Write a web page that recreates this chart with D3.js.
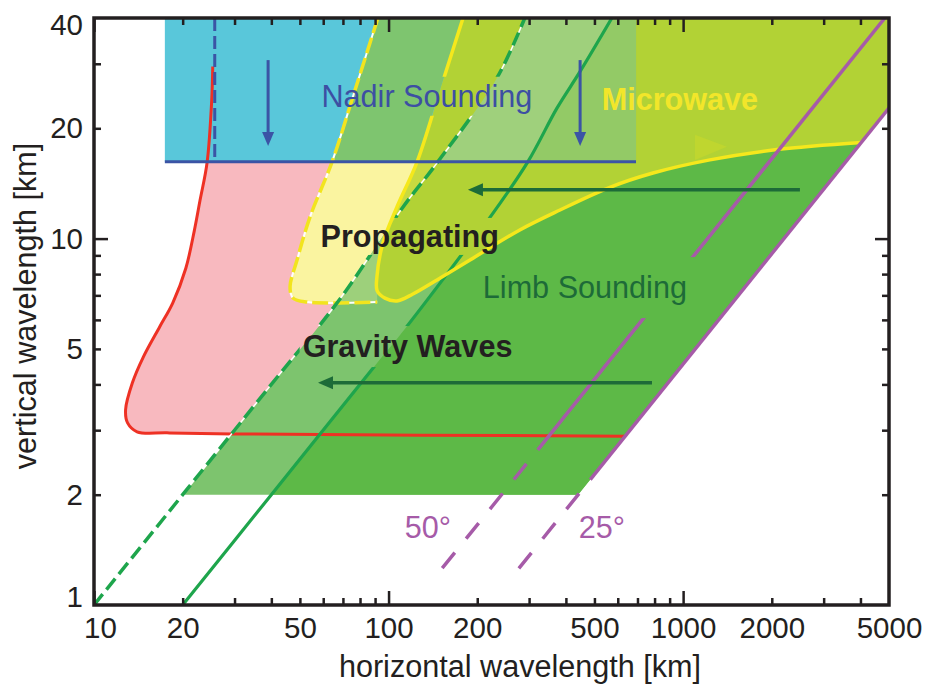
<!DOCTYPE html>
<html><head><meta charset="utf-8">
<script src="https://cdn.jsdelivr.net/npm/d3@7"></script>
<style>
body{margin:0;background:#fff}
svg{display:block}
text{font-family:"Liberation Sans",Arial,Helvetica,sans-serif}
</style>
</head><body>
<svg id="c" width="931" height="686"></svg>
<script>
// ---------- data (horizontal wavelength km, vertical wavelength km) ----------
const xDomain=[10,5000], yDomain=[1,40];
const xTickLabels=[10,20,50,100,200,500,1000,2000,5000];
const yTickLabels=[1,2,5,10,20,40];
const xMajor=[10,100,1000];
const xMinor=[20,30,40,50,60,70,80,90,200,300,400,500,600,700,800,900,2000,3000,4000];
const yMajor=[10];
const yMinor=[2,3,4,5,6,7,8,9,20,30];

// red boundary of propagating gravity waves
const redCurve=[[25.3,29.5],[25.1,23.9],[24.2,16.1],[22.9,12.7],[21.9,10.5],[20.5,8.3],[18.5,6.67],[16.7,5.74],[14.7,4.75],[13.5,4.04],[12.8,3.41],[13.0,3.14],[14.0,2.97],[17.7,2.95],[29.6,2.93],[634,2.89]];
// nadir sounding box
const nadirH=[17.4,692], nadirZ=[16.2,40];
const nadirDashH=25.7;
const nadirArrowH=[39,447], nadirArrowZ=[30.7,17.9];
// limb sounding boundaries
const greenDashed=[[10,1],[20,2],[40,4],[68,6.8],[112,12.2],[147,16.2],[233,27.4],[290,40]];
const greenSolid=[[20,1],[40,2],[88.5,4.43],[115,5.74],[179,9.14],[217,11.2],[297,16.2],[373,22.7],[446,28.5],[573,40]];
const limbBottomZ=2;
// propagating (yellow dashed) and microwave (yellow solid) outlines
const pLeft=[[92,40],[76.9,25.4],[64.3,16.2],[54.1,11.45],[48.9,8.74],[46.3,7.38],[47.4,6.88],[52.8,6.71],[91.5,6.71]];
const pRight=[[91.5,6.71],[91.5,7.2],[95.7,9.73],[106.8,12.2],[125,16.2],[179,40]];
const mLeft=[[179,40],[149.5,25.4],[125,16.2],[106.8,12.2],[95.7,9.73],[91.3,7.86]];
const mBottom=[[91.5,7.2],[97.2,6.88],[106.8,6.76],[121,7.06],[146,7.71],[189,8.74],[279,10.56],[382,11.97],[564,13.8],[790,15.1],[1233,16.4],[2080,17.5],[4022,18.3]];
// purple angle lines
const line25Solid=[[8800,40],[484,2.2]], line25Dashed=[[484,2.2],[264,1.2]];
const line50Solid=[[4840,40],[321,2.65]], line50Dashed=[[321,2.65],[146,1.21]];
// dark green arrows
const greenArrows=[{from:2492,to:186,z:13.6},{from:784,to:57.6,z:4.04}];
// faint marker
const faintTri=[[1097,19.2],[1408,17.8],[1097,16.4]];
// labels
const labels=[
 {t:'Nadir Sounding',h:135,z:22.9,c:'#3d4fa3',w:'normal',gap:2},
 {t:'Microwave',h:975,z:22.4,c:'#f2e62a',w:'bold'},
 {t:'Propagating',h:118,z:9.49,c:'#231f20',w:'bold',gap:1},
 {t:'Limb Sounding',h:464,z:6.88,c:'#1d6b38',w:'normal',gap:13},
 {t:'Gravity Waves',h:116,z:4.75,c:'#231f20',w:'bold',gap:3},
 {t:'50°',h:136,z:1.52,c:'#a65ba8',w:'normal'},
 {t:'25°',h:530,z:1.52,c:'#a65ba8',w:'normal'}
];

// ---------- scales ----------
const L=94,R=889,T=18,B=605;
const x=d3.scaleLog().domain(xDomain).range([L,R]);
const y=d3.scaleLog().domain(yDomain).range([B,T]);
const P=p=>[x(p[0]),y(p[1])];
const curvePath=pts=>d3.line().curve(d3.curveCatmullRom.alpha(0.5))(pts.map(P));
const linPath=pts=>d3.line()(pts.map(P));
const join=(...parts)=>parts.map((s,i)=>i===0?s:s.replace(/^M/,'L')).join('')+'Z';

const svg=d3.select('#c');
const defs=svg.append('defs');
defs.append('clipPath').attr('id','clipPlot').append('rect').attr('x',L).attr('y',T).attr('width',R-L).attr('height',B-T);

const top25=line25Solid[0], limbCorner=[limbBottomZ*line25Solid[1][0]/line25Solid[1][1],limbBottomZ];
const pinkPath=join(curvePath(redCurve),linPath([redCurve[redCurve.length-1],top25,[redCurve[0][0],40]]));
const pPath=join(curvePath(pLeft),linPath(pRight));
const limbPath=join(curvePath(greenDashed.slice(1)),linPath([[290,40],top25,limbCorner]));
const limbInnerPath=join(curvePath(greenSolid.slice(1)),linPath([[573,40],top25,limbCorner]));
const mOutline=mLeft.concat(mBottom);
const mPath=join(curvePath(mOutline),linPath([mBottom[mBottom.length-1],top25,[179,40]]));
const nadirPath=linPath([[nadirH[0],nadirZ[0]],[nadirH[1],nadirZ[0]],[nadirH[1],nadirZ[1]],[nadirH[0],nadirZ[1]]])+'Z';

defs.append('clipPath').attr('id','clipLimb').append('path').attr('d',limbPath);
defs.append('clipPath').attr('id','clipM').append('path').attr('d',mPath);
defs.append('clipPath').attr('id','clipNadir').append('path').attr('d',nadirPath);

// masks for line gaps behind labels
function mkMask(id){
  const m=defs.append('mask').attr('id',id).attr('maskUnits','userSpaceOnUse')
    .attr('x',0).attr('y',0).attr('width',931).attr('height',686);
  m.append('rect').attr('width',931).attr('height',686).attr('fill','#fff');
  return m;
}
const gapMask=mkMask('gapMask'), yMask=mkMask('yMask');

const g=svg.append('g').attr('clip-path','url(#clipPlot)');
const fill=(par,d,c)=>par.append('path').attr('d',d).attr('fill',c);

fill(g,pinkPath,'#f8b9bf');
fill(g,pPath,'#faf4a0');
fill(g,limbPath,'#7dc46e');
fill(g,limbInnerPath,'#5db947');
fill(g.append('g').attr('clip-path','url(#clipLimb)'),pPath,'#9dd07b');
fill(g,mPath,'#c8da40');
fill(g.append('g').attr('clip-path','url(#clipM)'),limbPath,'#b2d235');
fill(g,nadirPath,'#59c7da');
const gn=g.append('g').attr('clip-path','url(#clipNadir)');
fill(gn,pPath,'#7ec56f');
fill(gn,mPath,'#b2d235');
const gnm=gn.append('g').attr('clip-path','url(#clipM)');
fill(gnm,limbPath,'#9fd07c');
fill(gnm,limbInnerPath,'#93ca66');
fill(g,linPath(faintTri)+'Z','#bfd62f');

// ---------- lines ----------
const stroke=(par,d,c,w,dash,off)=>{const p=par.append('path').attr('d',d).attr('fill','none')
  .attr('stroke',c).attr('stroke-width',w);
  if(dash)p.attr('stroke-dasharray',dash);
  if(off)p.attr('stroke-dashoffset',off);return p;};

// red
stroke(g,curvePath(redCurve),'#ee3124',3);
// yellow dashed propagating outline
stroke(g,curvePath(pLeft),'#ffffff',2);
stroke(g,curvePath(pLeft),'#f2e41e',3.5,'16 5');
// green limb lines
const gl=g.append('g').attr('mask','url(#gapMask)');
stroke(gl,curvePath(greenDashed),'#ffffff',1.5);
stroke(gl,curvePath(greenDashed),'#1ea54c',3.5,'14 6');
stroke(gl,curvePath(greenSolid),'#1ea54c',3.2);
// microwave outline
stroke(g.append('g').attr('mask','url(#yMask)'),curvePath(mOutline),'#f5e81c',3.5);
// purple
const gp=g.append('g').attr('mask','url(#gapMask)');
stroke(gp,linPath(line25Solid),'#a65ba8',3.5);
stroke(gp,linPath(line25Dashed),'#a65ba8',3.5,'20 18',20);
stroke(gp,linPath(line50Solid),'#a65ba8',3.5);
stroke(gp,linPath(line50Dashed),'#a65ba8',3.5,'20 18',20);
// nadir lines
stroke(g,linPath([[nadirH[0],nadirZ[0]],[nadirH[1],nadirZ[0]]]),'#3b54a5',3);
stroke(g,linPath([[nadirDashH,nadirZ[1]],[nadirDashH,nadirZ[0]]]),'#3b54a5',3,'13 5');
nadirArrowH.forEach(h=>{
  const xx=x(h),y0=y(nadirArrowZ[0]),y1=y(nadirArrowZ[1]);
  g.append('line').attr('x1',xx).attr('x2',xx).attr('y1',y0).attr('y2',y1-10)
    .attr('stroke','#3b54a5').attr('stroke-width',3);
  g.append('path').attr('d',`M${xx},${y1}L${xx-6},${y1-14}L${xx+6},${y1-14}Z`).attr('fill','#3b54a5');
});
// dark green arrows
greenArrows.forEach(a=>{
  const x0=x(a.from),x1=x(a.to),yy=y(a.z);
  g.append('line').attr('x1',x0).attr('x2',x1+10).attr('y1',yy).attr('y2',yy)
    .attr('stroke','#1d6b38').attr('stroke-width',3.5);
  g.append('path').attr('d',`M${x1},${yy}L${x1+15},${yy-6.5}L${x1+15},${yy+6.5}Z`).attr('fill','#1d6b38');
});

// ---------- labels ----------
labels.forEach(l=>{
  const t=svg.append('text').attr('x',x(l.h)).attr('y',y(l.z)).attr('text-anchor','middle')
    .attr('font-size',30.6).attr('font-weight',l.w).attr('fill',l.c).text(l.t);
  if(l.gap!==undefined){
    const b=t.node().getBBox();
    const r=[b.x-l.gap,b.y-l.gap,b.width+2*l.gap,b.height+2*l.gap];
    gapMask.append('rect').attr('x',r[0]).attr('y',r[1]).attr('width',r[2]).attr('height',r[3]).attr('fill','#000');
    if(l.t==='Nadir Sounding')
      yMask.append('rect').attr('x',r[0]).attr('y',r[1]).attr('width',r[2]).attr('height',r[3]).attr('fill','#000');
  }
});

// ---------- axes ----------
const ink='#231f20';
function ticks(axis,tr,vals,size){
  const a=svg.append('g').attr('transform',tr)
    .call(axis.tickValues(vals).tickSizeInner(-size).tickSizeOuter(0).tickFormat(''));
  a.select('.domain').remove();
  a.selectAll('line').attr('stroke',ink).attr('stroke-width',2.5);
}
ticks(d3.axisBottom(x),`translate(0,${B})`,xMinor,7);
ticks(d3.axisBottom(x),`translate(0,${B})`,xMajor,14);
ticks(d3.axisTop(x),`translate(0,${T})`,xMinor,7);
ticks(d3.axisTop(x),`translate(0,${T})`,xMajor,14);
ticks(d3.axisLeft(y),`translate(${L},0)`,yMinor,7);
ticks(d3.axisLeft(y),`translate(${L},0)`,yMajor,14);
ticks(d3.axisRight(y),`translate(${R},0)`,yMinor,7);
ticks(d3.axisRight(y),`translate(${R},0)`,yMajor,14);

const xl=svg.append('g').attr('transform',`translate(0,${B})`)
  .call(d3.axisBottom(x).tickValues(xTickLabels).tickSize(0).tickPadding(12).tickFormat(d3.format('d')));
xl.select('.domain').remove();
xl.selectAll('text').attr('font-size',29.5).attr('fill',ink)
  .attr('font-family','"Liberation Sans",Arial,Helvetica,sans-serif')
  .filter(d=>d===xDomain[0]).attr('dx',6);
const yl=svg.append('g').attr('transform',`translate(${L},0)`)
  .call(d3.axisLeft(y).tickValues(yTickLabels).tickSize(0).tickPadding(11).tickFormat(d3.format('d')));
yl.select('.domain').remove();
yl.selectAll('text').attr('font-size',29.5).attr('fill',ink)
  .attr('font-family','"Liberation Sans",Arial,Helvetica,sans-serif')
  .attr('transform',d=>d===yDomain[1]?'translate(0,7)':(d===yDomain[0]?'translate(0,-8)':null));

svg.append('rect').attr('x',L).attr('y',T).attr('width',R-L).attr('height',B-T)
  .attr('fill','none').attr('stroke',ink).attr('stroke-width',3.5);

svg.append('text').attr('x',520).attr('y',677).attr('text-anchor','middle')
  .attr('font-size',30.6).attr('fill',ink).text('horizontal wavelength [km]');
svg.append('text').attr('transform','translate(36,306) rotate(-90)').attr('text-anchor','middle')
  .attr('font-size',30.6).attr('fill',ink).text('vertical wavelength [km]');
</script>
</body></html>
